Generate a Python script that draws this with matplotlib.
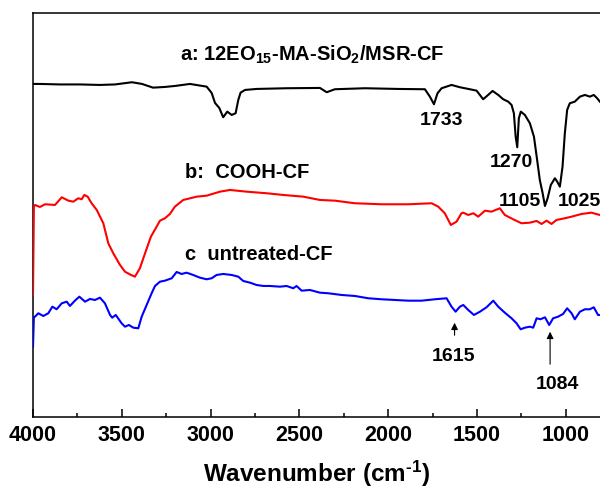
import matplotlib
matplotlib.use("Agg")
import matplotlib.pyplot as plt
import numpy as np

plt.rcParams['font.family'] = ['Liberation Sans', 'DejaVu Sans']
plt.rcParams['font.weight'] = 'bold'
plt.rcParams['mathtext.fontset'] = 'custom'
plt.rcParams['mathtext.rm'] = 'Liberation Sans:bold'
plt.rcParams['mathtext.it'] = 'Liberation Sans:bold'
plt.rcParams['mathtext.bf'] = 'Liberation Sans:bold'

# spectra, wavenumber (cm-1) and transmittance (a.u., offset)
wn_a = [4000, 3961, 3848, 3735, 3623, 3538, 3443, 3386, 3324, 3257, 3200, 3116, 3022,
        2994, 2975, 2951, 2929, 2906, 2881, 2859, 2844, 2831, 2806, 2741, 2572, 2384,
        2346, 2300, 2131, 1943, 1793, 1765, 1742, 1722, 1699, 1643, 1596, 1540, 1502,
        1465, 1437, 1412, 1380, 1352, 1324, 1305, 1292, 1282, 1273, 1264, 1253, 1230,
        1202, 1179, 1161, 1146, 1130, 1117, 1102, 1084, 1061, 1048, 1033, 1018, 1005,
        992, 977, 949, 920, 892, 864, 842, 823, 808]
t_a = [333, 333, 332.5, 332.5, 332, 332.5, 334.7, 333, 329.3, 330, 331, 333, 330.3,
       324, 314, 309, 299.7, 305.3, 302, 303.7, 317, 324.3, 327, 328, 328.7, 329,
       324.7, 327.7, 328.7, 328, 327.7, 320.3, 312.7, 323.7, 328.7, 332, 329.7, 327.7, 326.3,
       317.7, 322, 326, 322, 317.7, 315.3, 312, 303.7, 280.3, 269.7, 298.7, 305.3, 302,
       293.7, 280.3, 257, 237, 223.7, 211, 218.7, 232, 238.7, 235.3, 230.3, 250.3, 283.7,
       307, 313.7, 315.3, 320.3, 322, 320.3, 322, 318.7, 315.3]

wn_b = [4000, 3995, 3989, 3961, 3932, 3876, 3838, 3801, 3773, 3745, 3726, 3711, 3692,
        3670, 3641, 3604, 3576, 3548, 3510, 3482, 3448, 3426, 3398, 3369, 3336, 3304,
        3285, 3257, 3229, 3201, 3154, 3078, 3022, 2947, 2891, 2797, 2684, 2591, 2478,
        2384, 2300, 2187, 2037, 1887, 1755, 1718, 1681, 1647, 1615, 1587, 1577, 1549,
        1520, 1493, 1455, 1418, 1371, 1343, 1296, 1249, 1202, 1164, 1136, 1108, 1080,
        1052, 1005, 967, 911, 855, 808]
t_b = [122, 210, 212, 210, 212.7, 212, 219.7, 216.3, 215.3, 218.7, 217.7, 222, 220.3,
       213.7, 207, 193.7, 173.7, 163.7, 152, 145.3, 142, 140.3, 148.7, 163.7, 180.3, 190.3,
       196.3, 198.7, 203, 210.3, 217, 220.3, 221.3, 225.3, 227, 225.3, 223.7, 222, 220.3,
       217, 216.3, 213.7, 212.7, 212.7, 213.7, 210.3, 203.7, 192, 195.3, 203.7, 204.3, 202,
       203.7, 200.3, 206.3, 205.3, 208.7, 202, 197.7, 193.7, 194.3, 196, 193, 196.3, 193,
       197, 198.7, 200.3, 203, 204.3, 202]

wn_c = [4000, 3995, 3989, 3970, 3942, 3914, 3891, 3867, 3838, 3810, 3792, 3764, 3739,
        3707, 3679, 3651, 3623, 3595, 3566, 3554, 3534, 3501, 3482, 3460, 3435, 3407,
        3388, 3360, 3332, 3313, 3285, 3257, 3219, 3191, 3163, 3135, 3098, 3060, 3022,
        2994, 2966, 2929, 2881, 2844, 2816, 2778, 2741, 2703, 2666, 2609, 2572, 2534,
        2516, 2487, 2441, 2384, 2337, 2262, 2187, 2112, 2037, 1962, 1887, 1812, 1737,
        1671, 1643, 1620, 1596, 1577, 1549, 1517, 1483, 1446, 1408, 1380, 1343, 1305,
        1277, 1254, 1230, 1202, 1183, 1164, 1142, 1117, 1093, 1071, 1043, 1015, 992,
        967, 949, 920, 892, 864, 842, 818, 808]
t_c = [70, 100, 100.3, 103.7, 101, 103.7, 110.3, 107.7, 113.7, 115.3, 111, 116.3, 120.3,
       115.3, 118, 117, 119.3, 113.7, 102, 99.3, 102, 93.7, 90.3, 92, 89.3, 88.7,
       100.3, 112, 123.7, 131, 135.3, 136.3, 138.7, 145, 143, 144.3, 142, 139.3, 137.7,
       138.7, 142, 143, 142, 140.3, 136, 134.3, 132, 131, 131, 130.3, 131, 128.7,
       131, 126.3, 127, 124.3, 123.7, 122, 121, 118.7, 117.7, 117, 116.3, 116.3, 117.7,
       118.7, 110.3, 105.3, 110.3, 112, 107, 102, 105.3, 109.7, 116.3, 110.3, 104.3, 98.7,
       93.7, 87.7, 89.3, 90.3, 89.3, 98.7, 97.7, 99.7, 92, 98.7, 100.3, 103, 108.7,
       103.7, 97.7, 105.3, 107.7, 107.7, 109.7, 102, 102]

fig = plt.figure(figsize=(6, 4.88), dpi=100)
ax = fig.add_axes([0.055, 0.1455, 0.945, 0.828])

ax.plot(wn_a, t_a, color='black', lw=1.5, zorder=3)
ax.plot(wn_b, t_b, color='red', lw=1.5, zorder=3)
ax.plot(wn_c, t_c, color='blue', lw=1.5, zorder=3)

ax.set_xlim(4000, 807)
ax.set_ylim(0, 404)
ax.set_xticks([4000, 3500, 3000, 2500, 2000, 1500, 1000])
ax.set_xticks(np.arange(3750, 800, -500), minor=True)
ax.set_yticks([])
ax.tick_params(axis='x', which='major', direction='in', length=6, width=1.1,
               labelsize=15.5, pad=6)
ax.tick_params(axis='x', which='minor', direction='in', length=3, width=1.1)
for s in ['left', 'bottom', 'top']:
    ax.spines[s].set_linewidth(1.1)
ax.spines['right'].set_visible(False)

ax.set_xlabel('Wavenumber (cm$^{\u2010 1}$)', fontsize=17.5, fontweight='bold', labelpad=9)

ax.text(3172, 362, 'a: 12EO$_{15}$-MA-SiO$_2$/MSR-CF', fontsize=14.5, ha='left', va='center')
ax.text(3144, 244, 'b:  COOH-CF', fontsize=14.5, ha='left', va='center')
ax.text(3144, 162, 'c  untreated-CF', fontsize=14.5, ha='left', va='center')

ax.text(1699, 296, '1733', fontsize=14, ha='center', va='center')
ax.text(1305, 254, '1270', fontsize=14, ha='center', va='center')
ax.text(1258, 215, '1105', fontsize=14, ha='center', va='center')
ax.text(1044, 215, '1025', fontsize=14, ha='left', va='center')

ax.annotate('', xy=(1626, 97), xytext=(1626, 79),
            arrowprops=dict(arrowstyle='-|>', color='black', lw=0.8, mutation_scale=10))
ax.annotate('', xy=(1088, 88), xytext=(1088, 50),
            arrowprops=dict(arrowstyle='-|>', color='black', lw=0.8, mutation_scale=10))
ax.text(1630, 60, '1615', fontsize=14, ha='center', va='center')
ax.text(1047, 32, '1084', fontsize=14, ha='center', va='center')

fig.savefig('out.png', dpi=100)
